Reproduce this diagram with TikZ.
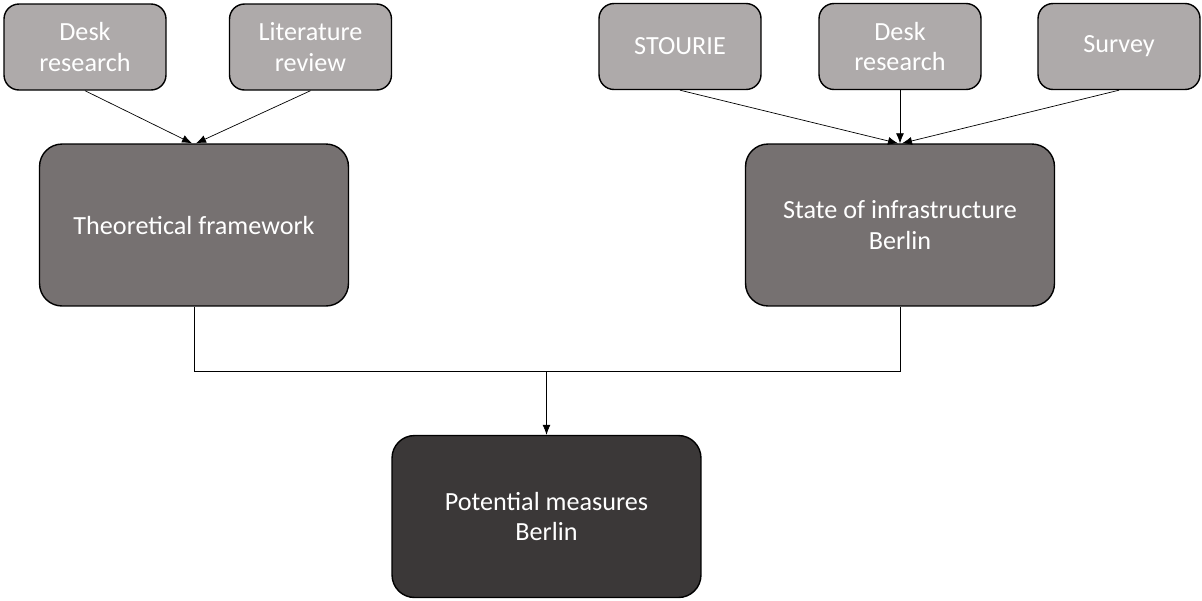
\documentclass[tikz,border=0pt]{standalone}
\usepackage{fontspec}
\setmainfont{Carlito}
\usetikzlibrary{arrows.meta}
\definecolor{lightbox}{HTML}{AEAAAA}
\definecolor{midbox}{HTML}{767171}
\definecolor{darkbox}{HTML}{3B3838}
\tikzstyle{smallbox}=[rectangle,rounded corners=0.3cm,draw=black,line width=0.8pt,fill=lightbox,text=white,minimum width=3.24cm,minimum height=1.72cm,align=center,inner sep=2pt,font=\fontsize{14.9}{17.5}\selectfont]
\tikzstyle{bigbox}=[smallbox,rounded corners=0.45cm,minimum width=6.18cm,minimum height=3.24cm]
\tikzstyle{edge} = [draw,line width=0.4pt,-{Latex[length=2mm,width=1.6mm]}]
\tikzstyle{plainedge} = [draw,line width=0.4pt]

\begin{document}
\begin{tikzpicture}[x=0.02cm,y=-0.02cm]
\useasboundingbox (0,0) rectangle (1202,600);

%inputs
    \foreach \pos/\name/\label in {{(85,47)/dl/{Desk\\research}}, {(310.5,47)/lit/{Literature\\review}}, {(680,46.5)/sto/{STOURIE}}, {(900,46.5)/dr/{Desk\\research}}, {(1119,46.5)/sur/{Survey}}}
        \node[smallbox] (\name) at \pos {\label};

%results
    \node[bigbox,fill=midbox] (theo) at (194,225) {Theoretical framework};
    \node[bigbox,fill=midbox] (state) at (900,225) {State of infrastructure\\Berlin};
    \node[bigbox,fill=darkbox] (pot) at (546.5,516.5) {Potential measures\\Berlin};

% arrow ends on top of the results
    \coordinate (theoL) at ([xshift=-0.04cm]theo.north);
    \coordinate (theoR) at ([xshift=0.04cm]theo.north);
    \coordinate (stateL) at ([xshift=-0.04cm]state.north);
    \coordinate (stateR) at ([xshift=0.04cm]state.north);

% Connect inputs with results
    \foreach \source/ \dest in {dl/theoL, lit/theoR, sto/stateL, dr/state.north, sur/stateR}
        \path[edge] (\source.south) -- (\dest);

%join
    \coordinate (join) at (546.5,371);
    \path[plainedge] (theo.south) |- (join) -| (state.south);
    \path[edge] (join) -- (pot.north);

\end{tikzpicture}
\end{document}
